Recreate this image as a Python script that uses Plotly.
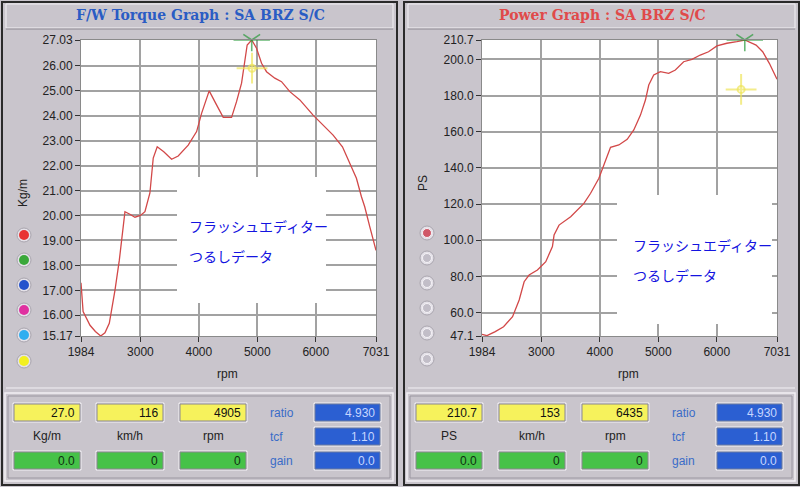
import plotly.graph_objects as go

# ---------------- data ----------------
torque_rpm = [1984, 2000, 2020, 2138, 2230, 2321, 2394, 2468, 2565, 2639, 2707, 2736, 2820, 2907,
              3000, 3078, 3163, 3220, 3288, 3400, 3534, 3647, 3818, 3962, 4047, 4177, 4303, 4417,
              4560, 4645, 4731, 4787, 4827, 4905, 4987, 5073, 5158, 5300, 5415, 5557, 5728, 5955,
              6126, 6297, 6457, 6582, 6696, 6782, 6838, 6924, 7031]
torque_kgm = [17.3, 16.9, 16.15, 15.6, 15.35, 15.17, 15.3, 15.68, 17.0, 18.2, 19.7, 20.15, 20.05, 19.93,
              20.0, 20.15, 20.9, 22.3, 22.75, 22.55, 22.25, 22.38, 22.82, 23.36, 24.09, 24.99, 24.43, 23.93,
              23.93, 24.56, 25.3, 26.1, 26.83, 27.03, 26.7, 26.1, 25.76, 25.5, 25.36, 24.96, 24.63, 24.02,
              23.62, 23.22, 22.75, 22.09, 21.49, 20.75, 20.35, 19.55, 18.6]

power_rpm = [1984, 2069, 2211, 2353, 2507, 2620, 2705, 2790, 2932, 3075, 3189, 3217, 3302, 3501,
             3728, 3842, 3984, 4069, 4183, 4325, 4468, 4581, 4695, 4780, 4837, 4922, 5036, 5178,
             5292, 5434, 5576, 5718, 5860, 6003, 6173, 6344, 6480, 6673, 6786, 6900, 7031]
power_ps = [48.0, 47.3, 49.5, 52.2, 57.8, 67.0, 77.1, 80.8, 83.6, 88.2, 96.5, 102.9, 108.4, 113.0,
            120.4, 126.0, 134.3, 141.6, 151.4, 152.7, 155.8, 161.0, 169.2, 177.5, 185.8, 191.4, 193.2, 192.3,
            194.1, 198.7, 200.0, 202.4, 204.2, 207.4, 208.9, 209.8, 210.7, 207.9, 204.2, 197.8, 189.0]

x_ticks = [1984, 3000, 4000, 5000, 6000, 7031]
torque_ticks = [15.17, 16, 17, 18, 19, 20, 21, 22, 23, 24, 25, 26, 27.03]
power_ticks = [47.1, 60, 80, 100, 120, 140, 160, 180, 200, 210.7]

# cursor (yellow crosshair) positions
torque_cursor = (4910, 25.9)
power_cursor = (6417, 183.4)

# readouts
torque_readout = ["27.0", "116", "4905"]
power_readout = ["210.7", "153", "6435"]
readout_units_torque = ["Kg/m", "km/h", "rpm"]
readout_units_power = ["PS", "km/h", "rpm"]
zero_readout = ["0.0", "0", "0"]
param_names = ["ratio", "tcf", "gain"]
param_values = ["4.930", "1.10", "0.0"]

overlay_lines = ["フラッシュエディター", "つるしデータ"]

# ---------------- helpers ----------------
W, H = 800, 487
def X(x): return x / W
def Y(y): return 1 - y / H

shapes = []
annotations = []

def rect(x0, y0, x1, y1, fill=None, line="#888", lw=1, layer="below"):
    shapes.append(dict(type="rect", xref="paper", yref="paper", x0=X(x0), x1=X(x1), y0=Y(y1), y1=Y(y0),
                       fillcolor=fill if fill else "rgba(0,0,0,0)",
                       line=dict(color=line, width=lw), layer=layer))

def line(x0, y0, x1, y1, color="#333", lw=1, layer="below"):
    shapes.append(dict(type="line", xref="paper", yref="paper", x0=X(x0), x1=X(x1), y0=Y(y0), y1=Y(y1),
                       line=dict(color=color, width=lw), layer=layer))

def circle(cx, cy, r, fill, line_c="rgba(0,0,0,0)", lw=0, layer="above"):
    shapes.append(dict(type="circle", xref="paper", yref="paper", x0=X(cx - r), x1=X(cx + r),
                       y0=Y(cy + r), y1=Y(cy - r), fillcolor=fill, line=dict(color=line_c, width=lw), layer=layer))

def text(t, x, y, size=12, color="#222", xanchor="center", family="Liberation Sans, Arial", angle=0, bold=False):
    if bold:
        t = "<b>" + t + "</b>"
    annotations.append(dict(text=t, x=X(x), y=Y(y), xref="paper", yref="paper", showarrow=False,
                            xanchor=xanchor, yanchor="middle", textangle=angle,
                            font=dict(size=size, color=color, family=family)))

# ---------------- frames ----------------
for dx in (0, 402):
    rect(dx + 2, 2, dx + 397, 485, None, "#2a2a2a", 2)
    rect(dx + 6, 4, dx + 393, 28, None, "#f2f0f4", 1)
    line(dx + 6, 29, dx + 393, 29, "#8c8890", 1)
    line(dx + 6, 388, dx + 393, 388, "#f2f0f4", 1)
    rect(dx + 5, 393, dx + 393, 481, None, "#f2f0f4", 1.5)
    rect(dx + 8, 396, dx + 390, 478, None, "#9a96a0", 1)

# titles
text("F/W Torque Graph : SA BRZ S/C", 200, 15, 14, "#2a5cc4", family="DejaVu Serif, serif", bold=True)
text("Power Graph : SA BRZ S/C", 602, 15, 14, "#e04a4a", family="DejaVu Serif, serif", bold=True)

# axis titles
text("Kg/m", 23, 193, 12, "#222", angle=-90)
text("PS", 423, 183, 12, "#222", angle=-90)
text("rpm", 227, 374, 12, "#222")
text("rpm", 628, 374, 12, "#222")

# legend dots (left)
dot_colors = ["#e83232", "#3aa83a", "#2452cc", "#e030a0", "#30aef0", "#f2f020"]
dot_y = [235, 260, 285, 310, 335, 361]
for c, yy in zip(dot_colors, dot_y):
    circle(24, yy, 7, "#e4e1e8", "#a9a5ae", 1)
    circle(24, yy, 5, c)
# gray dots (right)
for i, yy in enumerate(dot_y):
    circle(427, yy - 2, 7, "#e4e1e8", "#a9a5ae", 1)
    circle(427, yy - 2, 4.5, "#d05868" if i == 0 else "#c2bec8", "#f4f2f6", 1)

# white overlay boxes + text
rect(177, 177, 326, 303, "white", "white", 0, layer="above")
rect(617, 195, 772, 324, "white", "white", 0, layer="above")
text(overlay_lines[0], 187, 226, 14, "#1414e0", xanchor="left", family="Noto Sans CJK JP")
text(overlay_lines[1], 187, 256, 14, "#1414e0", xanchor="left", family="Noto Sans CJK JP")
text(overlay_lines[0], 631, 245, 14, "#1414e0", xanchor="left", family="Noto Sans CJK JP")
text(overlay_lines[1], 631, 275, 14, "#1414e0", xanchor="left", family="Noto Sans CJK JP")

# readout panels
box_x = [(14, 80), (97, 163), (180, 246)]
for dx, vals, units in ((0, torque_readout, readout_units_torque), (402, power_readout, readout_units_power)):
    for (x0, x1), v, u, z in zip(box_x, vals, units, zero_readout):
        rect(dx + x0 - 1, 403, dx + x1 + 1, 422, None, "#f4f2f6", 1)
        rect(dx + x0, 404, dx + x1, 421, "#f6f25c", "#8a8690", 1)
        text(v, dx + x1 - 3, 412.5, 12, "#111", xanchor="right")
        text(u, dx + (x0 + x1) / 2, 436, 12, "#222")
        rect(dx + x0 - 1, 451, dx + x1 + 1, 470, None, "#f4f2f6", 1)
        rect(dx + x0, 452, dx + x1, 469, "#46c248", "#8a8690", 1)
        text(z, dx + x1 - 3, 460.5, 12, "#103010", xanchor="right")
    for (y0, y1), n, v in zip([(404, 421), (428, 445), (452, 469)], param_names, param_values):
        text(n, dx + 268, (y0 + y1) / 2 + 0.5, 12, "#3a6cc8", xanchor="left")
        rect(dx + 314, y0 - 1, dx + 381, y1 + 1, None, "#f4f2f6", 1)
        rect(dx + 315, y0, dx + 380, y1, "#2b5fd2", "#6a7aa0", 1)
        text(v, dx + 377, (y0 + y1) / 2 + 0.5, 12, "#c6d6ff", xanchor="right")

# ---------------- traces ----------------
curve = dict(color="#d24848", width=1.3)
fig = go.Figure()
fig.add_trace(go.Scatter(x=torque_rpm, y=torque_kgm, mode="lines", line=curve, xaxis="x", yaxis="y",
                         hoverinfo="x+y"))
fig.add_trace(go.Scatter(x=power_rpm, y=power_ps, mode="lines", line=curve, xaxis="x2", yaxis="y2",
                         hoverinfo="x+y"))

def peak(xs, ys):
    i = max(range(len(ys)), key=lambda k: ys[k])
    return xs[i], ys[i]

green = "#2a9a3a"
yellow = "#eee45a"
for (px_, py_), xa, ya in ((peak(torque_rpm, torque_kgm), "x", "y"), (peak(power_rpm, power_ps), "x2", "y2")):
    fig.add_trace(go.Scatter(x=[px_, px_], y=[py_, py_], mode="markers", xaxis=xa, yaxis=ya, cliponaxis=False,
                             marker=dict(symbol=["line-ew-open", "y-down-open"], size=[26, 14], color=green,
                                         line=dict(color=green, width=1.6)), hoverinfo="skip"))

for (cx, cy), xa, ya in ((torque_cursor, "x", "y"), (power_cursor, "x2", "y2")):
    fig.add_trace(go.Scatter(x=[cx, cx], y=[cy, cy], mode="markers", xaxis=xa, yaxis=ya, cliponaxis=False,
                             marker=dict(symbol=["cross-thin-open", "circle-open"], size=[22, 7], color=yellow,
                                         line=dict(color=yellow, width=2)), hoverinfo="skip"))

axis_common = dict(showline=True, linecolor="#8a8a8a", linewidth=1, mirror=True, ticks="outside",
                   ticklen=5, tickcolor="#333", tickwidth=1, showgrid=True, gridcolor="#a2a2a2", gridwidth=1.5,
                   zeroline=False, automargin=False,
                   tickfont=dict(family="Liberation Sans, Arial", size=12, color="#222"))

fig.update_layout(
    width=W, height=H, autosize=False, margin=dict(l=0, r=0, t=0, b=0, pad=0),
    paper_bgcolor="#c9c5cc", plot_bgcolor="white", showlegend=False,
    xaxis=dict(domain=[X(81), X(376)], range=[1984, 7031], tickvals=x_ticks,
               ticktext=[str(v) for v in x_ticks], anchor="y", **axis_common),
    yaxis=dict(domain=[Y(336), Y(40)], range=[15.17, 27.03], tickvals=torque_ticks,
               ticktext=[f"{v:.2f}" for v in torque_ticks], anchor="x", **axis_common),
    xaxis2=dict(domain=[X(482), X(777)], range=[1984, 7031], tickvals=x_ticks,
                ticktext=[str(v) for v in x_ticks], anchor="y2", **axis_common),
    yaxis2=dict(domain=[Y(336), Y(40)], range=[47.1, 210.7], tickvals=power_ticks,
                ticktext=[f"{v:.1f}" for v in power_ticks], anchor="x2", **axis_common),
    shapes=shapes, annotations=annotations,
)

fig.write_html("out.html", config={"displayModeBar": False},
               post_script="document.body.style.margin='0px';document.body.style.overflow='hidden';")
